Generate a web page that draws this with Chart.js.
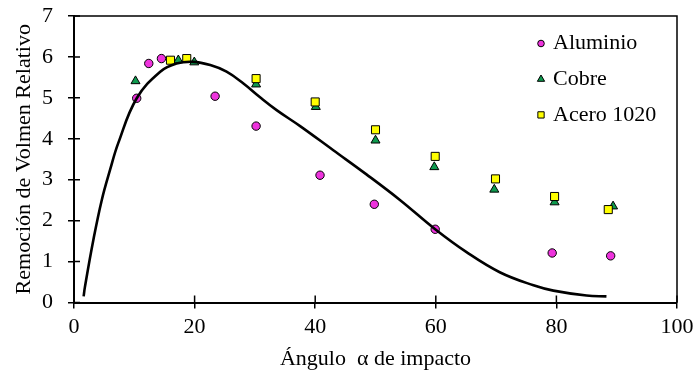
<!DOCTYPE html>
<html><head><meta charset="utf-8">
<script src="https://cdn.jsdelivr.net/npm/chart.js@4/dist/chart.umd.min.js"></script>
<style>html,body{margin:0;padding:0;background:#fff;}#wrap{width:696px;height:374px;}</style>
</head><body><div id="wrap"><canvas id="c" width="696" height="374"></canvas></div>
<script>
const seriesNames = ['Aluminio', 'Cobre', 'Acero 1020'];
const aluminioX = [10.4, 12.4, 14.5, 23.4, 30.2, 40.8, 49.8, 59.9, 79.3, 89.0];
const aluminioY = [4.99, 5.84, 5.96, 5.04, 4.31, 3.11, 2.40, 1.79, 1.21, 1.14];
const cobreX = [10.2, 17.3, 19.95, 30.2, 40.1, 50.0, 59.75, 69.7, 79.7, 89.4];
const cobreY = [5.41, 5.92, 5.87, 5.33, 4.78, 3.96, 3.31, 2.76, 2.45, 2.35];
const aceroX = [16.0, 18.7, 30.2, 40.0, 50.0, 59.9, 69.9, 79.7, 88.6];
const aceroY = [5.92, 5.96, 5.47, 4.90, 4.22, 3.57, 3.02, 2.59, 2.27];
const curveX = [1.6, 1.8, 3.2, 4.6, 6.0, 7.35, 10.4, 14.3, 17.0, 19.8, 22.6, 25.3, 28.1, 30.8, 33.6, 37.5, 43.0, 48.5, 54.1, 59.9, 65.1, 70.6, 76.2, 79.5, 85.0, 88.3];
const curveY = [0.15, 0.37, 1.52, 2.50, 3.25, 3.90, 4.99, 5.64, 5.84, 5.88, 5.80, 5.64, 5.35, 5.02, 4.70, 4.31, 3.72, 3.13, 2.50, 1.79, 1.23, 0.74, 0.42, 0.29, 0.17, 0.15];
const xTickValues = [0, 20, 40, 60, 80, 100];
const yTickValues = [0, 1, 2, 3, 4, 5, 6, 7];
const xTitle = 'Ángulo  α de impacto';
const yTitle = 'Remoción de Volmen Relativo';

const FONT = '"Liberation Serif", "Times New Roman", serif';
const zip = (xs, ys) => xs.map((x, i) => ({x, y: ys[i]}));

function drawMarker(ctx, style, x, y, r, fill) {
  ctx.save();
  ctx.fillStyle = fill; ctx.strokeStyle = '#000'; ctx.lineWidth = 1;
  ctx.beginPath();
  if (style === 'circle') ctx.arc(x, y, r, 0, Math.PI * 2);
  else if (style === 'triangle') {
    ctx.moveTo(x, y - r); ctx.lineTo(x + r * 0.866, y + r * 0.5); ctx.lineTo(x - r * 0.866, y + r * 0.5); ctx.closePath();
  } else { const s = r * 0.75; ctx.rect(x - s, y - s, 2 * s, 2 * s); }
  ctx.fill(); ctx.stroke(); ctx.restore();
}

const framePlugin = {
  id: 'frame',
  afterDatasetsDraw(chart) {
    const ctx = chart.ctx;
    const a = chart.chartArea;
    const xs = chart.scales.x, ys = chart.scales.y;
    ctx.save();
    ctx.setLineDash([]);
    ctx.globalAlpha = 1;
    ctx.strokeStyle = '#000000';
    ctx.lineWidth = 1.5;
    ctx.beginPath();
    ctx.moveTo(a.left, a.top); ctx.lineTo(a.right, a.top); ctx.lineTo(a.right, a.bottom);
    ctx.stroke();
    ctx.beginPath();
    ys.ticks.forEach(t => { const p = ys.getPixelForValue(t.value); ctx.moveTo(a.left, p); ctx.lineTo(a.left + 6, p); });
    xs.ticks.forEach(t => { const p = xs.getPixelForValue(t.value); ctx.moveTo(p, a.bottom); ctx.lineTo(p, a.bottom - 7); });
    ctx.stroke();
    ctx.restore();
  },
  afterDraw(chart) {
    const ctx = chart.ctx;
    ctx.save();
    ctx.font = '22px ' + FONT;
    ctx.fillStyle = '#000';
    ctx.textBaseline = 'middle';
    ctx.textAlign = 'left';
    chart.data.datasets.filter(d => d.inLegend).forEach((d, i) => {
      const y = 43.5 + i * 35.7;
      drawMarker(ctx, d.pointStyle, 541, y, d.pointStyle === 'circle' ? 3.3 : 4.2, d.backgroundColor);
      ctx.fillText(d.label, 553, y);
    });
    ctx.restore();
  }
};

const tickFont = {family: FONT, size: 22};

new Chart(document.getElementById('c'), {
  type: 'scatter',
  data: {
    datasets: [
      {type: 'line', label: 'curva', data: zip(curveX, curveY), borderColor: '#000', borderWidth: 2.6, pointRadius: 0, tension: 0.4, fill: false, order: 0, clip: false},
      {label: seriesNames[0], inLegend: true, data: zip(aluminioX, aluminioY), pointStyle: 'circle', pointRadius: 4.2, backgroundColor: '#EE33DD', borderColor: '#000', borderWidth: 1, order: 3},
      {label: seriesNames[1], inLegend: true, data: zip(cobreX, cobreY), pointStyle: 'triangle', pointRadius: 5.2, backgroundColor: '#0E9A4E', borderColor: '#000', borderWidth: 1, order: 2},
      {label: seriesNames[2], inLegend: true, data: zip(aceroX, aceroY), pointStyle: 'rect', pointRadius: 5.7, backgroundColor: '#FFFF00', borderColor: '#000', borderWidth: 1, order: 1}
    ]
  },
  options: {
    responsive: false,
    animation: false,
    events: [],
    layout: {padding: {top: 16, right: 19, left: 0, bottom: 0}},
    plugins: {legend: {display: false}, tooltip: {enabled: false}},
    scales: {
      x: {
        type: 'linear', min: 0, max: 100,
        afterBuildTicks: s => { s.ticks = xTickValues.map(v => ({value: v})); },
        afterFit: s => { s.height = 71.5; s.paddingLeft = 0; s.paddingRight = 0; },
        grid: {display: true, drawOnChartArea: false, drawTicks: true, tickLength: 6, color: '#000', lineWidth: 1.5},
        border: {display: true, color: '#000', width: 2},
        ticks: {color: '#000', font: tickFont, padding: 6, maxRotation: 0},
        title: {display: true, text: xTitle, color: '#000', font: tickFont, padding: {top: 0, bottom: 2}}
      },
      y: {
        type: 'linear', min: 0, max: 7,
        afterBuildTicks: s => { s.ticks = yTickValues.map(v => ({value: v})); },
        afterFit: s => { s.width = 74; s.paddingTop = 0; s.paddingBottom = 0; },
        grid: {display: true, drawOnChartArea: false, drawTicks: true, tickLength: 6, color: '#000', lineWidth: 1.5},
        border: {display: true, color: '#000', width: 2},
        ticks: {color: '#000', font: tickFont, padding: 15},
        title: {display: true, text: yTitle, color: '#000', font: tickFont, padding: {top: 11, bottom: 0}}
      }
    }
  },
  plugins: [framePlugin]
});
</script></body></html>
